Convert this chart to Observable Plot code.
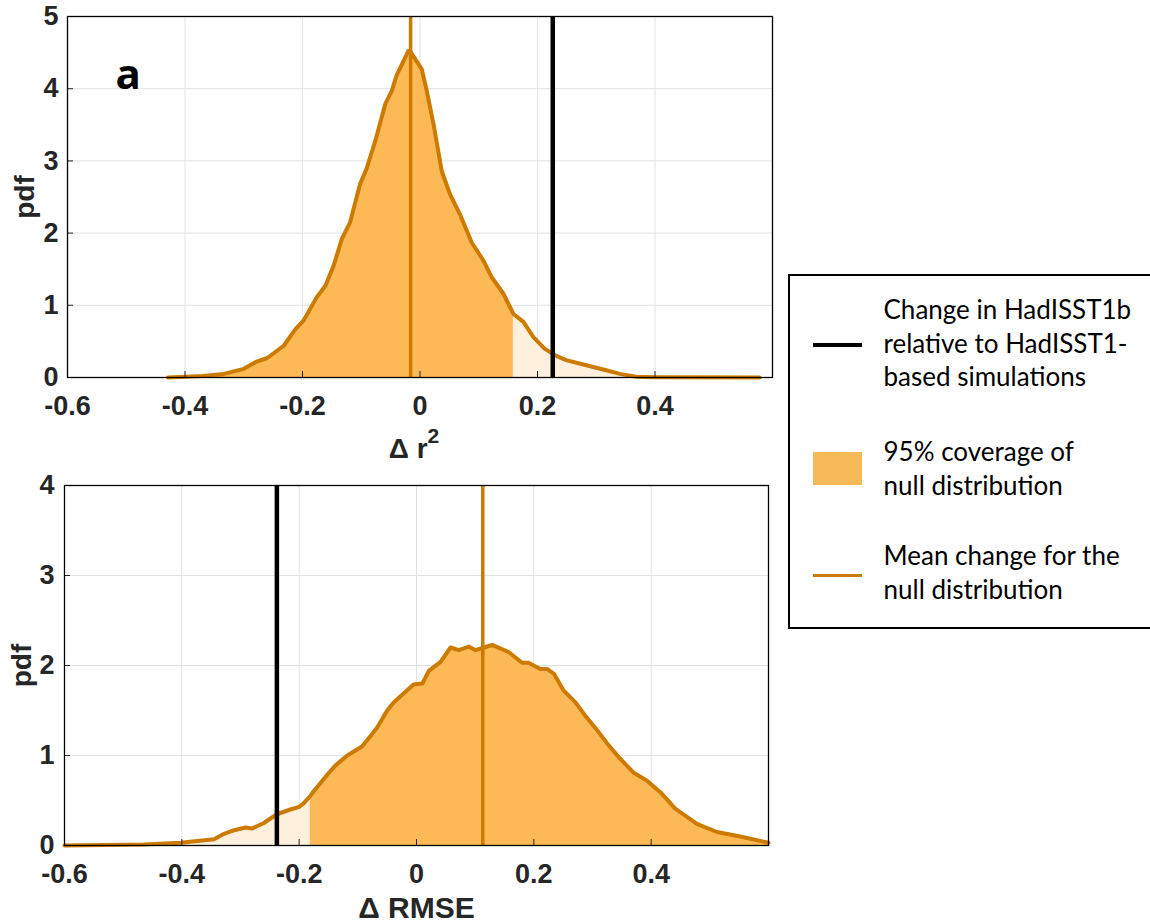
<!DOCTYPE html>
<html>
<head>
<meta charset="utf-8">
<script src="https://cdn.jsdelivr.net/npm/d3@7"></script>
<script src="https://cdn.jsdelivr.net/npm/@observablehq/plot@0.6"></script>
<style>
  body { margin: 0; background: #fff; }
  #wrap { position: relative; width: 1150px; height: 923px; overflow: hidden; background: #fff; }
  #top { position: absolute; left: 0; top: 0; }
  #bot { position: absolute; left: 0; top: 470px; }
  #legend { position: absolute; left: 788px; top: 274px; width: 380px; height: 355px;
            border: 2.5px solid #000; box-sizing: border-box; font-family: Lato, "Open Sans", sans-serif;
            font-size: 26px; color: #000; }
  .sw { position: absolute; left: 22.5px; width: 49px; }
  .lt { position: absolute; left: 93.5px; line-height: 33.5px; white-space: nowrap; }
</style>
</head>
<body>
<div id="wrap">
  <div id="top"></div>
  <div id="bot"></div>
  <div id="legend">
    <div class="sw" style="top:66.5px;height:4px;background:#000"></div>
    <div class="lt" style="top:17px">Change in HadISST1b<br>relative to HadISST1-<br>based simulations</div>
    <div class="sw" style="top:175.5px;height:33px;background:#f6b958"></div>
    <div class="lt" style="top:159px">95% coverage of<br>null distribution</div>
    <div class="sw" style="top:297.5px;height:3.5px;background:#c97a10"></div>
    <div class="lt" style="top:263px">Mean change for the<br>null distribution</div>
  </div>
</div>
<script>
// ---- data ----
const xTicks = [-0.6, -0.4, -0.2, 0, 0.2, 0.4];
const r2YTicks = [0, 1, 2, 3, 4, 5];
const rmseYTicks = [0, 1, 2, 3, 4];

// panel a: Δ r²
const r2X   = [-0.429, -0.40, -0.37, -0.334, -0.300, -0.278, -0.260, -0.232, -0.212, -0.198, -0.176, -0.161, -0.147, -0.133, -0.119, -0.102, -0.091, -0.076, -0.059, -0.048, -0.040, -0.020, -0.016, 0.003, 0.011, 0.023, 0.037, 0.051, 0.068, 0.088, 0.108, 0.122, 0.142, 0.159, 0.176, 0.193, 0.212, 0.232, 0.249, 0.283, 0.317, 0.340, 0.368, 0.400, 0.578];
const r2Pdf = [0, 0.01, 0.02, 0.05, 0.12, 0.22, 0.27, 0.44, 0.67, 0.79, 1.11, 1.27, 1.55, 1.92, 2.15, 2.68, 2.89, 3.28, 3.79, 3.97, 4.18, 4.52, 4.51, 4.27, 3.99, 3.51, 2.86, 2.54, 2.26, 1.87, 1.62, 1.39, 1.16, 0.88, 0.77, 0.56, 0.40, 0.30, 0.24, 0.17, 0.10, 0.05, 0.01, 0.005, 0];
const r2Ci = [-0.429, 0.159];
const r2Mean = -0.016;
const r2Obs = 0.226;

// panel b: Δ RMSE
const rmseX   = [-0.600, -0.465, -0.402, -0.345, -0.328, -0.311, -0.291, -0.280, -0.260, -0.249, -0.237, -0.215, -0.200, -0.192, -0.181, -0.178, -0.149, -0.138, -0.118, -0.093, -0.078, -0.067, -0.050, -0.039, -0.022, -0.005, 0.010, 0.021, 0.041, 0.058, 0.072, 0.089, 0.101, 0.115, 0.129, 0.157, 0.180, 0.191, 0.211, 0.223, 0.234, 0.251, 0.271, 0.288, 0.308, 0.328, 0.345, 0.370, 0.393, 0.416, 0.441, 0.478, 0.512, 0.552, 0.600];
const rmsePdf = [0, 0.01, 0.03, 0.07, 0.13, 0.17, 0.20, 0.19, 0.25, 0.30, 0.35, 0.40, 0.43, 0.47, 0.55, 0.58, 0.81, 0.89, 1.00, 1.10, 1.22, 1.31, 1.50, 1.59, 1.69, 1.79, 1.80, 1.94, 2.04, 2.20, 2.17, 2.21, 2.17, 2.20, 2.23, 2.15, 2.03, 2.03, 1.96, 1.96, 1.91, 1.72, 1.59, 1.44, 1.28, 1.11, 0.98, 0.81, 0.72, 0.59, 0.41, 0.24, 0.15, 0.10, 0.03];
const rmseCi = [-0.181, 0.600];
const rmseMean = 0.113;
const rmseObs = -0.238;

// ---- styling ----
const coreFill = "#fdb956";
const tailFill = "#fef0dc";
const lineColor = "#cc7a00";
const gridColor = "#e2e2e2";
const textColor = "#262626";
const axisFont = "'Liberation Sans', Arial, Helvetica, sans-serif";

function panel(xs, ys, ci, mean, obs, yTicks, opts) {
  const data = xs.map((x, i) => ({x, y: ys[i]}));
  const frameH = opts.height - opts.marginTop - opts.marginBottom;
  const frameW = opts.width - opts.marginLeft - opts.marginRight;
  const fmt = d => d === 0 ? "0" : String(d);
  const marks = [
    Plot.gridX(xTicks, {stroke: gridColor, strokeOpacity: 1}),
    Plot.gridY(yTicks, {stroke: gridColor, strokeOpacity: 1}),
    Plot.areaY(data.filter(d => d.x < ci[0] + 1e-9), {x: "x", y: "y", fill: tailFill}),
    Plot.areaY(data.filter(d => d.x >= ci[0] - 1e-9 && d.x <= ci[1] + 1e-9), {x: "x", y: "y", fill: coreFill}),
    Plot.areaY(data.filter(d => d.x >= ci[1] - 1e-9), {x: "x", y: "y", fill: tailFill}),
    Plot.line(data, {x: "x", y: "y", stroke: lineColor, strokeWidth: 4, strokeLinejoin: "round"}),
    Plot.tickX(xTicks, {x: d => d, insetTop: frameH - 6, stroke: textColor, strokeWidth: 1}),
    Plot.tickY(yTicks, {y: d => d, insetRight: frameW - 6, stroke: textColor, strokeWidth: 1}),
    Plot.ruleX([mean], {stroke: lineColor, strokeWidth: 3.5}),
    Plot.ruleX([obs], {stroke: "#000", strokeWidth: 4.5}),
    Plot.frame({stroke: "#000", strokeWidth: 1.3}),
    Plot.axisX(xTicks, {tickSize: 0, tickPadding: opts.xPad, tickFormat: fmt, fontSize: 27, fontWeight: "bold", fill: textColor, label: null}),
    Plot.axisY(yTicks, {tickSize: 0, tickPadding: opts.yPad, tickFormat: d => String(d), fontSize: 27, fontWeight: "bold", fill: textColor, label: null}),
    Plot.text([opts.xLabel], {frameAnchor: "bottom", lineAnchor: "middle", textAnchor: "middle", dx: opts.xLabelDx, dy: opts.xLabelDy,
      fontSize: opts.xLabelSize, fontWeight: "bold", fill: textColor}),
    Plot.text(["pdf"], {frameAnchor: "left", textAnchor: "middle", lineAnchor: "middle", rotate: -90, dx: -42,
      fontSize: 28, fontWeight: "bold", fill: textColor})
  ];
  if (opts.tag) {
    marks.push(Plot.text([opts.tag], {frameAnchor: "top-left", dx: 48, dy: 43, lineAnchor: "top", textAnchor: "start",
      fontFamily: "'Open Sans', sans-serif", fontWeight: "bold", fontSize: 42, fill: "#000"}));
  }
  const svg = Plot.plot({
    width: opts.width, height: opts.height,
    marginLeft: opts.marginLeft, marginRight: opts.marginRight,
    marginTop: opts.marginTop, marginBottom: opts.marginBottom,
    style: {fontFamily: axisFont, background: "transparent", overflow: "visible"},
    x: {domain: [-0.6, 0.6]},
    y: {domain: [yTicks[0], yTicks[yTicks.length - 1]]},
    marks
  });
  // superscript exponent in the x-axis title (e.g. "Δ r^2")
  if (opts.sup) {
    svg.querySelectorAll("text").forEach(t => {
      if (t.textContent === opts.xLabel) {
        const s = document.createElementNS("http://www.w3.org/2000/svg", "tspan");
        s.setAttribute("dy", "-15");
        s.setAttribute("font-size", "21");
        s.textContent = opts.sup;
        t.appendChild(s);
      }
    });
  }
  return svg;
}

document.getElementById("top").append(panel(r2X, r2Pdf, r2Ci, r2Mean, r2Obs, r2YTicks, {
  width: 790, height: 470, marginLeft: 67, marginRight: 18, marginTop: 16, marginBottom: 93,
  xPad: 18, yPad: 9, xLabel: "Δ r", sup: "2", xLabelSize: 28, xLabelDx: -6, xLabelDy: 72, tag: "a"
}));
document.getElementById("bot").append(panel(rmseX, rmsePdf, rmseCi, rmseMean, rmseObs, rmseYTicks, {
  width: 790, height: 453, marginLeft: 64, marginRight: 22, marginTop: 15, marginBottom: 78,
  xPad: 18, yPad: 10, xLabel: "Δ RMSE", xLabelSize: 30, xLabelDx: 0, xLabelDy: 63
}));
</script>
</body>
</html>
